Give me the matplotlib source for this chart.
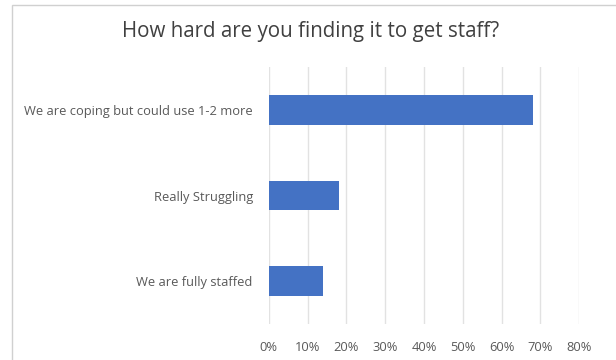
import matplotlib
matplotlib.use("Agg")
import matplotlib.pyplot as plt
from matplotlib.ticker import PercentFormatter
from matplotlib.patches import Rectangle

categories = ["We are coping but could use 1-2 more", "Really Struggling", "We are fully staffed"]
shares = [0.68, 0.18, 0.14]
tick_values = [0.0, 0.1, 0.2, 0.3, 0.4, 0.5, 0.6, 0.7, 0.8]

plt.rcParams["font.family"] = ["Open Sans", "DejaVu Sans"]
text_color = "#595959"
bar_color = "#4472c4"
grid_color = "#e2e2e2"

fig = plt.figure(figsize=(6.16, 3.6), dpi=100)
fig.patch.set_facecolor("white")

# chart frame
fig.patches.append(Rectangle((12 / 616, -0.1), 1.2, 1 - 5 / 360 + 0.1,
                             transform=fig.transFigure, fill=False,
                             edgecolor="#d0d0d0", linewidth=1.0))

ax = fig.add_axes([268.8 / 616, 1 - 324 / 360, (579.3 - 268.8) / 616, (324 - 67) / 360])
y = list(range(len(categories)))
ax.barh(y, shares, height=0.35, color=bar_color, zorder=3)
ax.set_ylim(len(categories) - 0.5, -0.5)
ax.set_xlim(0, 0.8)
ax.set_xticks(tick_values)
ax.xaxis.set_major_formatter(PercentFormatter(1.0, decimals=0))
ax.set_yticks(y)
ax.set_yticklabels(categories)
ax.grid(axis="x", color=grid_color, linewidth=1, zorder=0)
for s in ax.spines.values():
    s.set_visible(False)
ax.tick_params(axis="both", length=0, colors=text_color, labelsize=9.3)
ax.tick_params(axis="x", pad=12)
ax.tick_params(axis="y", pad=11.5)

fig.text(311 / 616, 1 - 32 / 360, "How hard are you finding it to get staff?",
         ha="center", va="center", fontsize=14.8, color="#404040")

fig.savefig("out.png", dpi=100)
